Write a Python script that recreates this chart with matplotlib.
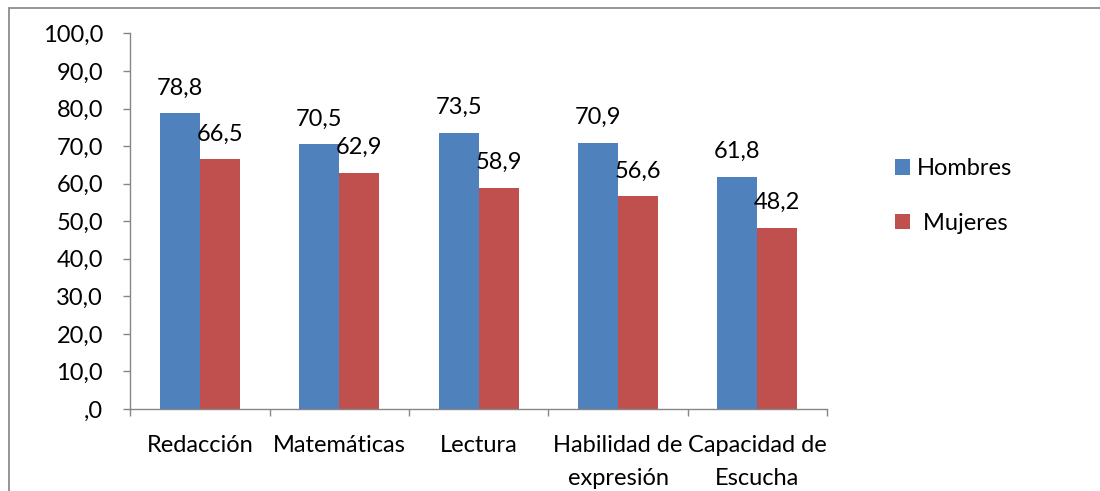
import matplotlib
matplotlib.use("Agg")
import matplotlib.pyplot as plt
from matplotlib.patches import Rectangle
from matplotlib.ticker import FixedLocator, FuncFormatter
import numpy as np

# ── DATA ──────────────────────────────────────────────────────────────────────
categorias = ["Redacción", "Matemáticas", "Lectura",
              "Habilidad de\nexpresión", "Capacidad de\nEscucha"]
hombres = [78.8, 70.5, 73.5, 70.9, 61.8]
mujeres = [66.5, 62.9, 58.9, 56.6, 48.2]
series_labels = ["Hombres", " Mujeres"]
y_ticks = [0, 10, 20, 30, 40, 50, 60, 70, 80, 90, 100]

# ── STYLE ─────────────────────────────────────────────────────────────────────
AZUL = "#4F81BD"
ROJO = "#C0504D"
GRIS = "#868686"
FS = 17
plt.rcParams["font.family"] = ["Lato", "DejaVu Sans"]

fig = plt.figure(figsize=(11, 4.91), dpi=100)
ax = fig.add_axes([0.1186, 0.167, 0.6332, 0.7648])

# ── BARS ──────────────────────────────────────────────────────────────────────
x = np.arange(len(categorias)) + 0.5
w = 0.287
b1 = ax.bar(x - w / 2, hombres, w, color=AZUL, label=series_labels[0])
b2 = ax.bar(x + w / 2, mujeres, w, color=ROJO, label=series_labels[1])

fmt = lambda v: f"{v:.1f}".replace(".", ",")
for bars, vals in ((b1, hombres), (b2, mujeres)):
    for r, v in zip(bars, vals):
        ax.annotate(fmt(v), (r.get_x() + r.get_width() / 2, v),
                    xytext=(0, 13.5), textcoords="offset points",
                    ha="center", va="baseline", fontsize=FS, color="#000")

# ── AXES ──────────────────────────────────────────────────────────────────────
ax.set_xlim(0, len(categorias))
ax.set_ylim(0, 100)
ax.set_yticks(y_ticks)
ax.yaxis.set_major_formatter(
    FuncFormatter(lambda v, p: ",0" if v == 0 else fmt(v)))
ax.tick_params(axis="y", length=4.8, width=1, color=GRIS, pad=15,
               labelsize=FS)

ax.set_xticks(x)
ax.set_xticklabels(categorias, fontsize=FS, linespacing=1.7)
ax.xaxis.set_minor_locator(FixedLocator(np.arange(len(categorias) + 1)))
ax.tick_params(axis="x", which="major", length=0, pad=19)
ax.tick_params(axis="x", which="minor", length=5, width=1, color=GRIS)

for s in ["top", "right"]:
    ax.spines[s].set_visible(False)
for s in ["left", "bottom"]:
    ax.spines[s].set_color(GRIS)
    ax.spines[s].set_linewidth(1)

# ── LEGEND ────────────────────────────────────────────────────────────────────
ax.legend(loc="upper left", bbox_to_anchor=(895 / 1100, 1 - 158 / 491),
          bbox_transform=fig.transFigure, frameon=False, fontsize=FS,
          handlelength=0.64, handleheight=0.64, handletextpad=0.3,
          labelspacing=1.43, borderpad=0, borderaxespad=0)

# outer chart frame (only top and left visible in the crop)
fig.patches.append(Rectangle((9 / 1100, -0.05), 1.2, 1 - 8.5 / 491 + 0.05,
                             transform=fig.transFigure, fill=False,
                             edgecolor="#8c8c8c", linewidth=1.3))

fig.savefig("out.png", dpi=100)
